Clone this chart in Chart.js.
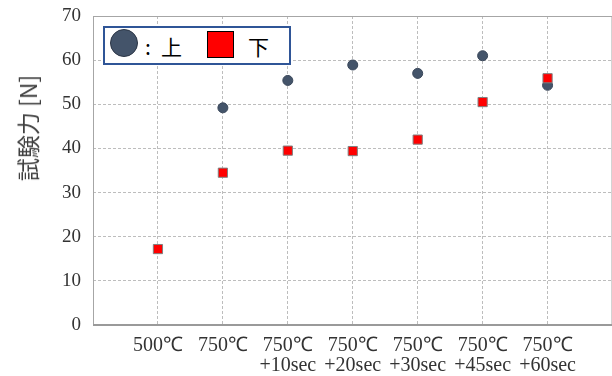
<!DOCTYPE html>
<html>
<head>
<meta charset="utf-8">
<script src="https://cdn.jsdelivr.net/npm/chart.js@4.4.1/dist/chart.umd.min.js"></script>
<style>
  html, body { margin: 0; padding: 0; background: #fff; overflow: hidden; }
  #wrap { position: relative; width: 612px; height: 376px; overflow: hidden; }
  #chart { display: block; }
  #legend {
    position: absolute; left: 103px; top: 26px; width: 184px; height: 35px;
    border: 2px solid #2f5597; background: #fff;
    font-family: "Noto Sans CJK JP", sans-serif; font-size: 21px; color: #000;
  }
  #legend .dot { position: absolute; left: 5px; top: 1px; width: 26px; height: 26px; border-radius: 50%; background: #44546a; border: 1px solid #2b3545; }
  #legend .sq { position: absolute; left: 102px; top: 3px; width: 25px; height: 25px; background: #ff0000; border: 1px solid #000; }
  #legend span { position: absolute; top: 3px; line-height: 30px; }
  #ytitle {
    position: absolute; left: 27px; top: 128px; white-space: nowrap;
    transform: translate(-50%, -50%) rotate(-90deg);
    font-family: "Noto Sans CJK JP", sans-serif; font-size: 23px; color: #404040;
  }
</style>
</head>
<body>
<div id="wrap">
  <canvas id="chart" width="620" height="376"></canvas>
  <div id="ytitle">試験力 [N]</div>
  <div id="legend">
    <div class="dot"></div><span style="left:40px">:</span><span style="left:56px">上</span>
    <div class="sq"></div><span style="left:143px">下</span>
  </div>
</div>
<script>
const categories = [['500℃'], ['750℃'], ['750℃', '+10sec'], ['750℃', '+20sec'], ['750℃', '+30sec'], ['750℃', '+45sec'], ['750℃', '+60sec']];
const upper = [null, 49.2, 55.4, 58.9, 57.0, 61.0, 54.3];
const lower = [17.2, 34.5, 39.5, 39.4, 42.0, 50.5, 55.9];
const yTicks = [0, 10, 20, 30, 40, 50, 60, 70];

function toPoints(values) {
    return values.map((v, i) => ({ x: i + 1, y: v }));
}

// frame around the plot area
const frame = {
    id: 'frame',
    afterDraw(chart) {
        const a = chart.chartArea;
        const ctx = chart.ctx;
        ctx.save();
        ctx.strokeStyle = '#a6a6a6';
        ctx.lineWidth = 1;
        ctx.strokeRect(a.left + 0.5, a.top + 0.5, a.right - a.left - 1, a.bottom - a.top);
        ctx.strokeStyle = '#9a9a9a';
        ctx.lineWidth = 2;
        ctx.beginPath();
        ctx.moveTo(a.left, a.bottom);
        ctx.lineTo(a.right, a.bottom);
        ctx.stroke();
        ctx.restore();
    }
};

new Chart(document.getElementById('chart'), {
    type: 'scatter',
    data: {
        datasets: [{
            label: '上',
            data: toPoints(upper),
            pointStyle: 'circle',
            pointRadius: 5,
            pointBackgroundColor: '#44546a',
            pointBorderColor: '#3a475a',
            pointBorderWidth: 1,
            order: 1
        }, {
            label: '下',
            data: toPoints(lower),
            pointStyle: 'rect',
            pointRadius: 6.5,
            pointBackgroundColor: '#ff0000',
            pointBorderColor: '#808080',
            pointBorderWidth: 1,
            order: 0
        }]
    },
    options: {
        responsive: false,
        animation: false,
        layout: { padding: { top: 16, right: 0, left: 0, bottom: 0 } },
        plugins: {
            legend: { display: false },
            tooltip: { enabled: false }
        },
        scales: {
            x: {
                type: 'linear',
                min: 0,
                max: 8,
                afterBuildTicks: (s) => { s.ticks = [0, 1, 2, 3, 4, 5, 6, 7, 8].map(v => ({ value: v })); },
                afterFit: (s) => { s.height = 51; s.paddingLeft = 0; s.paddingRight = 0; },
                ticks: {
                    autoSkip: false,
                    maxRotation: 0,
                    padding: 11,
                    color: '#333',
                    font: { family: '"Liberation Serif", serif', size: 20, lineHeight: 1.0 },
                    callback: (v) => (v >= 1 && v <= categories.length) ? categories[v - 1] : ''
                },
                grid: { color: '#bdbdbd', drawTicks: false, lineWidth: 1 },
                border: { display: false, dash: [3, 2] }
            },
            y: {
                min: 0,
                max: 70,
                afterBuildTicks: (s) => { s.ticks = yTicks.map(v => ({ value: v })); },
                afterFit: (s) => { s.width = 93; s.paddingTop = 0; s.paddingBottom = 0; },
                ticks: {
                    padding: 12,
                    color: '#333',
                    font: { family: '"Liberation Serif", serif', size: 19 }
                },
                grid: { color: '#bdbdbd', drawTicks: false, lineWidth: 1 },
                border: { display: false, dash: [3, 2] }
            }
        }
    },
    plugins: [frame]
});
</script>
</body>
</html>
